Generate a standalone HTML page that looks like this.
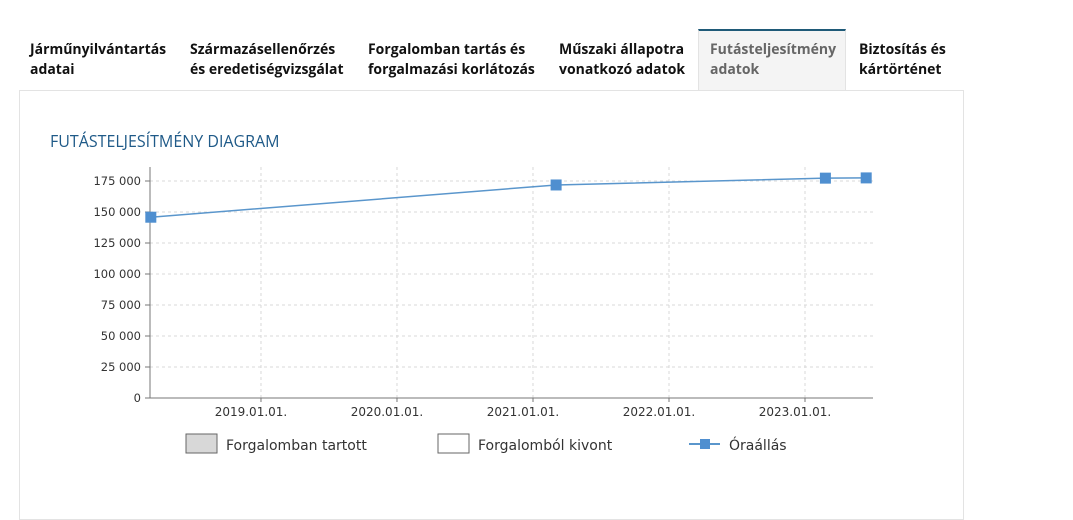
<!DOCTYPE html>
<html><head><meta charset="utf-8">
<style>
body{margin:0;width:1073px;height:508px;background:#fff;font-family:"Open Sans","Liberation Sans","DejaVu Sans",sans-serif;overflow:hidden;position:relative}
.tab{position:absolute;top:29px;height:61px;box-sizing:border-box;padding:11px 11px 0;font-weight:bold;font-size:14px;line-height:20px;color:#111}
.tab.active{background:#f4f4f4;border-top:2px solid #1f5a78;border-left:1px solid #e3e3e3;border-right:1px solid #e3e3e3;color:#666;padding-top:9px}
#panel{position:absolute;left:19px;top:90px;width:945px;height:430px;border:1px solid #e3e3e3;box-sizing:border-box}
#title{position:absolute;left:50px;top:130px;font-size:16px;color:#1f5a88}
svg{position:absolute;left:0;top:0}
</style></head><body>
<div class="tab" style="left:19px;width:170px">Járműnyilvántartás<br>adatai</div>
<div class="tab" style="left:179px;width:180px">Származásellenőrzés<br>és eredetiségvizsgálat</div>
<div class="tab" style="left:357px;width:190px">Forgalomban tartás és<br>forgalmazási korlátozás</div>
<div class="tab" style="left:548px;width:150px">Műszaki állapotra<br>vonatkozó adatok</div>
<div id="panel"></div>
<div class="tab active" style="left:698px;width:148px">Futásteljesítmény<br>adatok</div>
<div class="tab" style="left:848px;width:130px">Biztosítás és<br>kártörténet</div>
<div id="title">FUTÁSTELJESÍTMÉNY DIAGRAM</div>
<svg id="chart" width="1073" height="508"></svg>
<script>
const dates=[2018.19,2021.17,2023.15,2023.45];
const mileage=[145800,171800,177300,177500];
const yTicks=[0,25000,50000,75000,100000,125000,150000,175000];
const xTickYears=[2019,2020,2021,2022,2023];
const xTickLabels=["2019.01.01.","2020.01.01.","2021.01.01.","2022.01.01.","2023.01.01."];
const X0=150,X1=873,Y0=398,YTOP=167;
const xMin=2018.184,xMax=2023.5;
const x=v=>X0+(v-xMin)/(xMax-xMin)*(X1-X0);
const y=v=>Y0-v/175000*217;
const svg=document.getElementById('chart');
const NS='http://www.w3.org/2000/svg';
function mk(t,a){const e=document.createElementNS(NS,t);for(const k in a)e.setAttribute(k,a[k]);svg.appendChild(e);return e;}
yTicks.forEach(v=>{
 if(v>0){const g=mk('line',{x1:X0,x2:X1,y1:y(v),y2:y(v),stroke:'#d8d8d8','stroke-dasharray':'3,3'});
 
 }
 mk('line',{x1:X0-5,x2:X0,y1:y(v),y2:y(v),stroke:'#777'});
 const t=mk('text',{x:X0-9,y:y(v)+4,'text-anchor':'end','font-size':'11.5',fill:'#333','font-family':'DejaVu Sans,sans-serif'});
 t.textContent=v.toLocaleString('en').replace(/,/g,' ');
 
 
});
xTickYears.forEach((v,i)=>{
 const g=mk('line',{x1:x(v),x2:x(v),y1:YTOP,y2:Y0,stroke:'#d8d8d8','stroke-dasharray':'3,3'});
 
 
 mk('line',{x1:x(v),x2:x(v),y1:Y0,y2:Y0+4,stroke:'#777'});
 const t=mk('text',{x:x(v)-10,y:Y0+18,'text-anchor':'middle','font-size':'12',fill:'#333','font-family':'DejaVu Sans,sans-serif'});
 t.textContent=xTickLabels[i];
 
 
});
const ya=mk('line',{x1:X0,x2:X0,y1:YTOP,y2:Y0,stroke:'#777'});


const xa=mk('line',{x1:X0,x2:X1,y1:Y0,y2:Y0,stroke:'#777'});


const line=mk('polyline',{points:dates.map((d,i)=>x(d)+','+y(mileage[i])).join(' '),fill:'none',stroke:'#5a96cc','stroke-width':1.5});


dates.forEach((d,i)=>{
 const r=mk('rect',{x:x(d)-5.5,y:y(mileage[i])-5.5,width:11,height:11,fill:'#4f8fd0'});
 
 
});
function leg(px,label,fill,name){
 const r=mk('rect',{x:px,y:434,width:31,height:19,fill:fill,stroke:'#666'});
 
 
 const t=mk('text',{x:px+40,y:450,'font-size':'14',fill:'#333','font-family':'DejaVu Sans,sans-serif'});
 t.textContent=label;
 
 
}
leg(186,'Forgalomban tartott','#d8d8d8','legend-forgalomban');
leg(438,'Forgalomból kivont','#fff','legend-kivont');
const ll=mk('line',{x1:689,x2:720,y1:444,y2:444,stroke:'#5a96cc','stroke-width':2});


mk('rect',{x:700,y:439,width:10,height:10,fill:'#4f8fd0'});
const lt=mk('text',{x:729,y:450,'font-size':'14',fill:'#333','font-family':'DejaVu Sans,sans-serif'});
lt.textContent='Óraállás';


</script>
</body></html>
